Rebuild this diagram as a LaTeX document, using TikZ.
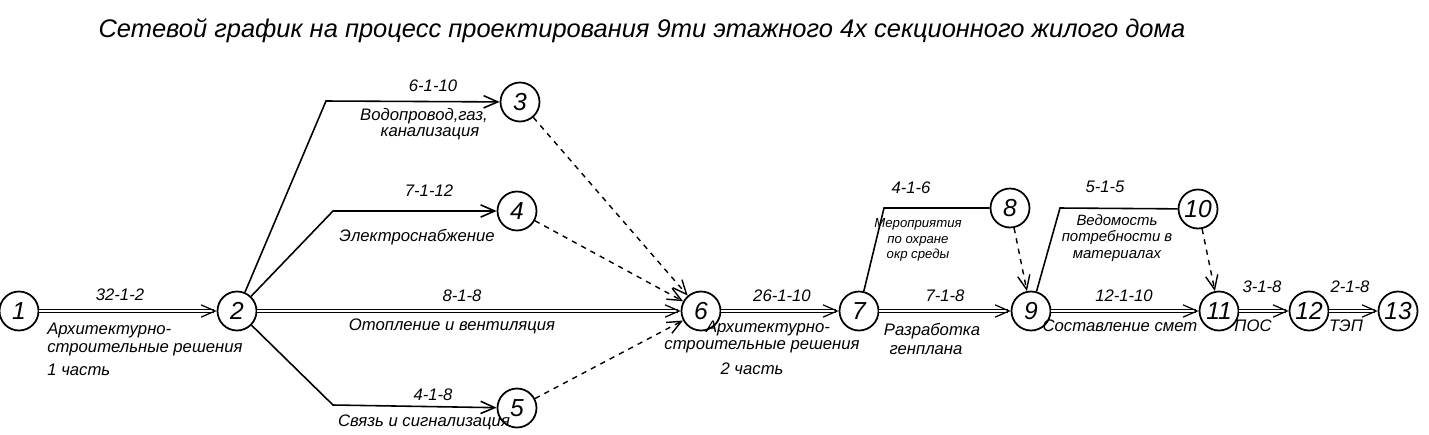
\documentclass[tikz,border=0pt]{standalone}
\usepackage{fontspec}
\setmainfont{Liberation Sans}
\usetikzlibrary{arrows.meta}
\begin{document}
\begin{tikzpicture}[x=0.02cm,y=-0.02cm,
  ev/.style={circle,draw,line width=1pt,minimum size=0.78cm,inner sep=0pt,font=\itshape\fontsize{14}{14}\selectfont},
  crit/.style={double,double distance=1.3pt,line width=0.7pt,-{Straight Barb[length=8pt,width=7pt]}},
  act/.style={line width=0.9pt,-{Straight Barb[length=8pt,width=7pt]}},
  actn/.style={line width=0.9pt},
  dum/.style={dashed,line width=0.8pt,-{Straight Barb[length=8pt,width=7pt]}},
  lb/.style={font=\itshape\fontsize{9.5}{11}\selectfont,inner sep=0pt},
  sl/.style={font=\itshape\fontsize{7.5}{9}\selectfont,inner sep=0pt,align=center}]
\useasboundingbox (0,0) rectangle (1429,434);
\node[font=\itshape\fontsize{14.5}{14}\selectfont] (title) at (642,31) {Сетевой график на процесс проектирования 9ти этажного 4х секционного жилого дома};
\node[ev] (n1) at (19,311) {1};
\node[ev] (n2) at (237,311) {2};
\node[ev] (n3) at (520,102) {3};
\node[ev] (n4) at (517,211) {4};
\node[ev] (n5) at (517,408) {5};
\node[ev] (n6) at (701,311) {6};
\node[ev] (n7) at (859,311) {7};
\node[ev] (n8) at (1010,208) {8};
\node[ev] (n9) at (1031,311) {9};
\node[ev] (n10) at (1198,209) {10};
\node[ev] (n11) at (1219,311) {11};
\node[ev] (n12) at (1309,311) {12};
\node[ev] (n13) at (1398,311) {13};
\coordinate (c3) at (326,101);
\coordinate (c4) at (333,211);
\coordinate (c5) at (333,405);
\coordinate (c8) at (884,208);
\coordinate (c10) at (1060,208);
\draw[crit] (n1) -- (n2);
\draw[crit] (n2) -- (n6);
\draw[crit] (n6) -- (n7);
\draw[crit] (n7) -- (n9);
\draw[crit] (n9) -- (n11);
\draw[crit] (n11) -- (n12);
\draw[crit] (n12) -- (n13);
\draw[act] (n2) -- (c3) -- (n3);
\draw[act] (n2) -- (c4) -- (n4);
\draw[act] (n2) -- (c5) -- (n5);
\draw[actn] (n7) -- (c8) -- (n8);
\draw[actn] (n9) -- (c10) -- (n10);
\draw[dum] (n3) -- (n6);
\draw[dum] (n4) -- (n6);
\draw[dum] (n5) -- (n6);
\draw[dum] (n8) -- (n9);
\draw[dum] (n10) -- (n11);
\node[lb] (l12) at (120,295) {32-1-2};
\node[lb,anchor=west] (t12a) at (47,330) {Архитектурно-};
\node[lb,anchor=west] (t12b) at (47,350) {строительные решения};
\node[lb,anchor=west] (t12c) at (47,370) {1 часть};
\node[lb] (l23) at (433,86) {6-1-10};
\node[lb] (t23a) at (424,116) {Водопровод,газ,};
\node[lb] (t23b) at (430,134) {канализация};
\node[lb] (l24) at (429,191) {7-1-12};
\node[lb] (t24) at (417,237) {Электроснабжение};
\node[lb] (l26) at (462,296) {8-1-8};
\node[lb] (t26) at (452,326) {Отопление и вентиляция};
\node[lb] (l25) at (433,395) {4-1-8};
\node[lb] (t25) at (424,422) {Связь и сигнализация};
\node[lb] (l67) at (782,296) {26-1-10};
\node[lb] (t67a) at (768,328) {Архитектурно-};
\node[lb] (t67b) at (762,347) {строительные решения};
\node[lb] (t67c) at (752,369) {2 часть};
\node[lb] (l79) at (945,296) {7-1-8};
\node[lb] (t79a) at (932,331) {Разработка};
\node[lb] (t79b) at (926,350) {генплана};
\node[lb] (l78) at (911,188) {4-1-6};
\node[sl] (t78) at (918,240) {Мероприятия\\по охране\\окр среды};
\node[lb] (l911) at (1124,296) {12-1-10};
\node[lb] (t911) at (1120,326) {Составление смет};
\node[lb] (l910) at (1105,187) {5-1-5};
\node[sl,font=\itshape\fontsize{8.5}{9.5}\selectfont] (t910) at (1117,238) {Ведомость\\потребности в\\материалах};
\node[lb] (l1112) at (1262,287) {3-1-8};
\node[lb] (t1112) at (1253,326) {ПОС};
\node[lb] (l1213) at (1350,287) {2-1-8};
\node[lb] (t1213) at (1346,326) {ТЭП};
\end{tikzpicture}
\end{document}
